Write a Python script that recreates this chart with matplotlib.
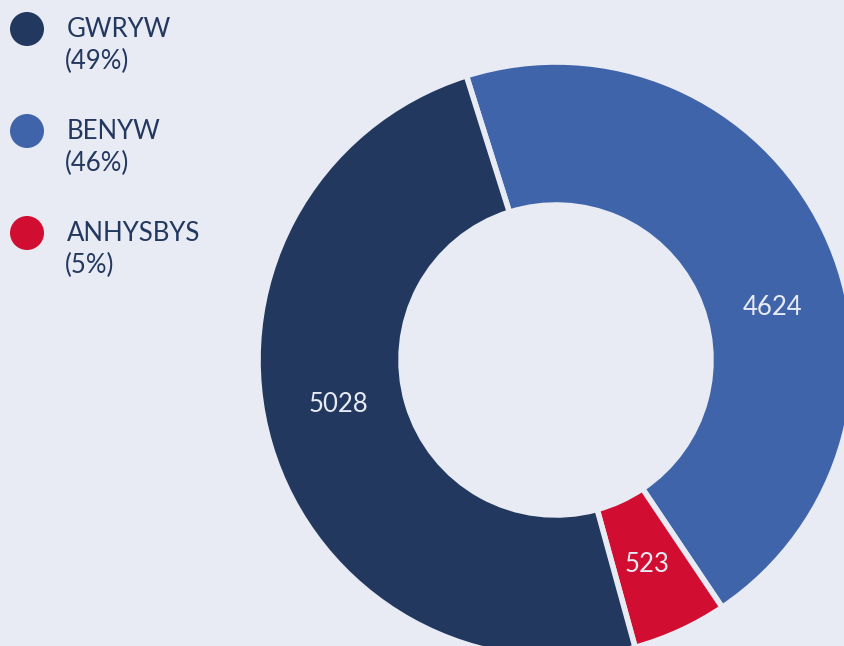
import matplotlib
matplotlib.use("Agg")
import matplotlib.pyplot as plt
import numpy as np

# ---- data ----
categories = ["GWRYW", "BENYW", "ANHYSBYS"]
values = [5028, 4624, 523]
colors = ["#22385f", "#4064aa", "#d10e31"]
pie_order = [1, 2, 0]  # clockwise drawing order from the start angle

# ---- style / layout ----
BG = "#e8ebf3"
TEXT = "#22385f"
W, H = 844, 646
FONT = "Lato"


def largest_remainder(vals):
    total = sum(vals)
    raw = [v * 100 / total for v in vals]
    fl = [int(np.floor(x)) for x in raw]
    rem = 100 - sum(fl)
    order = sorted(range(len(vals)), key=lambda i: raw[i] - fl[i], reverse=True)
    for i in order[:rem]:
        fl[i] += 1
    return fl


pcts = largest_remainder(values)

fig = plt.figure(figsize=(W / 100, H / 100), dpi=100, facecolor=BG)
ax = fig.add_axes([0, 0, 1, 1])
ax.set_facecolor(BG)

cx, cy = 556, H - 360
R, r_in = 298, 155
ax.pie([values[i] for i in pie_order],
       colors=[colors[i] for i in pie_order],
       center=(cx, cy), radius=R, startangle=107.5, counterclock=False,
       wedgeprops=dict(width=R - r_in, edgecolor=BG, linewidth=4),
       frame=True)
ax.set_xlim(0, W)
ax.set_ylim(0, H)
ax.set_aspect("equal", adjustable="box")
ax.axis("off")

# value labels inside the ring (pixel positions from top-left)
label_pos = {"GWRYW": (338.5, 404), "BENYW": (772.5, 307.5), "ANHYSBYS": (647.5, 564)}
for cat, val in zip(categories, values):
    px, py = label_pos[cat]
    ax.text(px, H - py, f"{val}", ha="center", va="center", color=BG,
            fontsize=18.5, family=FONT)

# legend (top-left)
for k, (cat, col, p) in enumerate(zip(categories, colors, pcts)):
    y0 = 29 + 102 * k
    ax.scatter([27], [H - y0], s=(34 * 0.72) ** 2, color=col, edgecolors="none", zorder=5)
    ax.text(67, H - (y0 + 8), cat, ha="left", va="baseline", color=TEXT,
            fontsize=18.5, family=FONT)
    ax.text(65, H - (y0 + 40), f"({p}%)", ha="left", va="baseline", color=TEXT,
            fontsize=18.5, family=FONT)

fig.savefig("out.png", dpi=100, facecolor=BG)
